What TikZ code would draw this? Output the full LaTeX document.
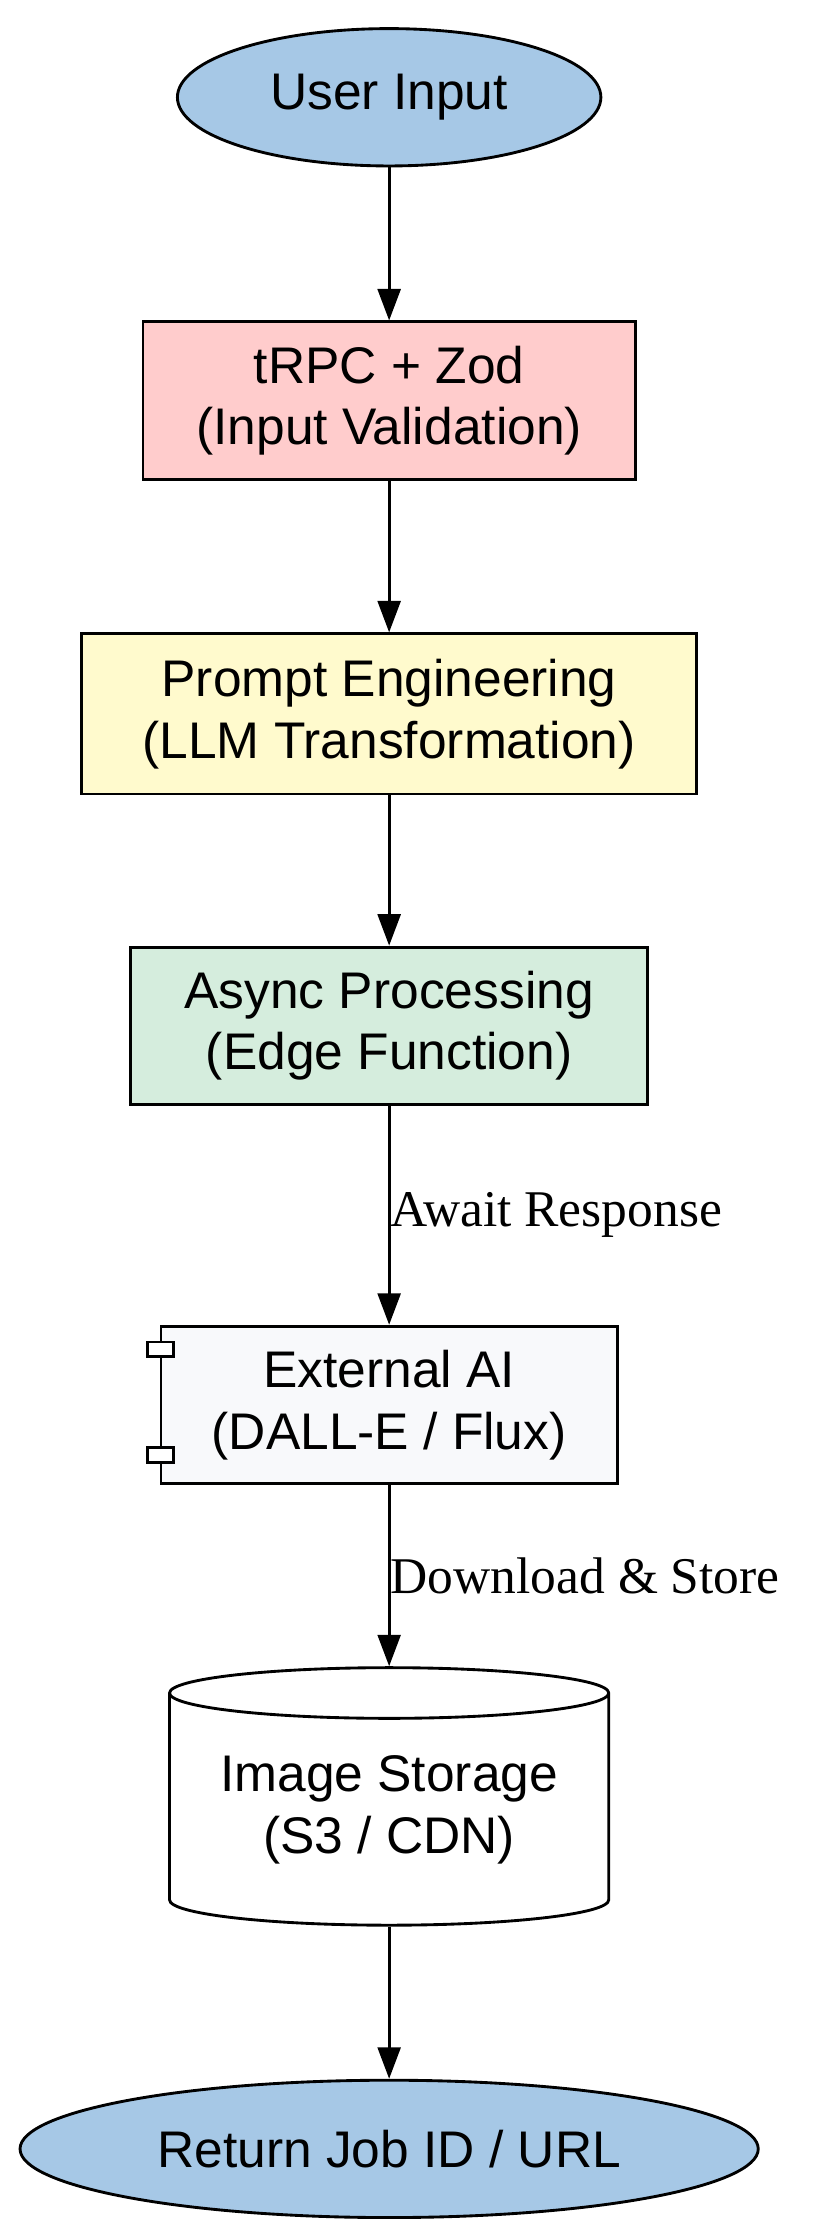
\documentclass[tikz,border=0pt]{standalone}
\usepackage{fontspec}
\setmainfont{Liberation Sans}
\newfontfamily\labelfont{Liberation Serif}
\usetikzlibrary{shapes.geometric,arrows.meta}
\definecolor{termblue}{HTML}{A6C8E6}
\definecolor{valred}{HTML}{FFCCCC}
\definecolor{promptyellow}{HTML}{FFFACD}
\definecolor{asyncgreen}{HTML}{D5EDDD}
\definecolor{extgrey}{HTML}{F8F9FB}
\begin{document}
\begin{tikzpicture}[x=1pt,y=-1pt,line width=2pt,
    every node/.style={font=\fontsize{36}{43}\selectfont,align=center,inner sep=0pt},
    term/.style={ellipse,draw,fill=termblue},
    stage/.style={rectangle,draw},
    flow/.style={-{Triangle[length=22,width=16]}},
    edgelabel/.style={font=\labelfont\fontsize{36}{43}\selectfont,anchor=west}]
    \useasboundingbox (0,0) rectangle (585,1565);
    % terminals and stages
    \node [term,minimum width=296,minimum height=96] (input) at (272,68) {User Input};
    \node [stage,fill=valred,minimum width=344,minimum height=110] (valid) at (272,280) {tRPC + Zod\\(Input Validation)};
    \node [stage,fill=promptyellow,minimum width=430,minimum height=112] (prompt) at (272,499) {Prompt Engineering\\(LLM Transformation)};
    \node [stage,fill=asyncgreen,minimum width=361,minimum height=110] (async) at (272,717) {Async Processing\\(Edge Function)};
    \node [stage,fill=extgrey,minimum width=319,minimum height=110] (extai) at (272,982) {External AI\\(DALL-E / Flux)};
    \draw [fill=white] (103,938) rectangle (121,948);
    \draw [fill=white] (103,1012) rectangle (121,1022);
    \node [cylinder,shape border rotate=90,draw,fill=white,aspect=0.15,minimum width=307,minimum height=180] (store) at (272,1265) {Image Storage\\(S3 / CDN)};
    \node [term,minimum width=516,minimum height=96] (result) at (272,1502) {Return Job ID / URL};
    % connectors
    \draw [flow] (input) -- (valid);
    \draw [flow] (valid) -- (prompt);
    \draw [flow] (prompt) -- (async);
    \draw [flow] (async) -- node [edgelabel] {Await Response} (extai);
    \draw [flow] (extai) -- node [edgelabel] {Download \& Store} (store);
    \draw [flow] (store) -- (result);
\end{tikzpicture}
\end{document}
